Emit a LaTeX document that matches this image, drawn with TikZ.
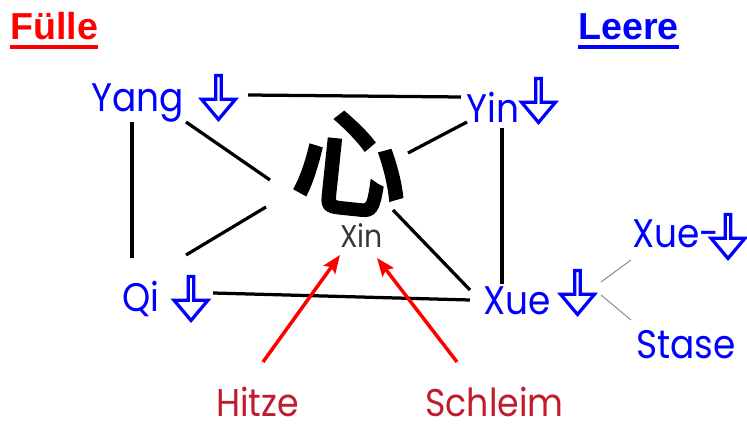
\documentclass[tikz,border=0pt]{standalone}
\usepackage{fontspec}
\setmainfont{Liberation Sans}
\newfontfamily\geofont[FakeStretch=0.9]{Poppins}
\newfontfamily\cjk[FakeBold=5]{Noto Sans CJK SC}
\usetikzlibrary{shapes.arrows,arrows.meta}
\definecolor{heatred}{RGB}{192,28,46}
\definecolor{xingray}{RGB}{55,55,55}
\definecolor{twiggray}{RGB}{140,140,140}
\begin{document}
\begin{tikzpicture}[
    x=0.02cm, y=-0.02cm,
    head/.style={font=\bfseries\fontsize{21.4}{24}\selectfont, inner sep=0, anchor=base west},
    lbl/.style={font=\geofont\fontsize{22.7}{26}\selectfont, text=blue, inner sep=0, anchor=base west},
    cause/.style={font=\geofont\fontsize{22}{26}\selectfont, text=heatred, inner sep=0, anchor=base west},
    downarr/.style={single arrow, draw=blue, line width=0.065cm, inner sep=0,
                    shape border rotate=270, single arrow head extend=0.17cm,
                    single arrow tip angle=80,
                    minimum width=0.68cm, minimum height=0.88cm, anchor=tip},
    conn/.style={line width=0.065cm},
    twig/.style={twiggray, line width=0.02cm},
    heat/.style={-{Stealth[length=0.36cm, width=0.28cm, inset=0.06cm]}, red, line width=0.07cm},
  ]
  \useasboundingbox (0,0) rectangle (747,428);

  % === headings ===
  \node[head, text=red] (fuelle) at (10,40) {Fülle};
  \node[head, text=blue] (leere) at (578,40) {Leere};
  \draw[red, line width=0.065cm] ([shift={(0,7)}]fuelle.base west) -- ([shift={(0,7)}]fuelle.base east);
  \draw[blue, line width=0.065cm] ([shift={(0,7)}]leere.base west) -- ([shift={(0,7)}]leere.base east);

  % === organ labels ===
  \node[lbl] (yang) at (91,112) {Yang};
  \node[downarr] (yangarr) at (218.5,122) {};
  \node[lbl] (yin) at (466,123) {Yin};
  \node[downarr] (yinarr) at (538.5,125) {};
  \node[lbl] (qi) at (122,312) {Qi};
  \node[downarr] (qiarr) at (191,323) {};
  \node[lbl] (xue) at (483,315) {Xue};
  \node[downarr] (xuearr) at (577.5,317) {};
  \node[lbl] (xuem) at (632,248) {Xue-};
  \node[downarr] (xuemarr) at (728,261) {};
  \node[lbl] (stase) at (636,359) {Stase};

  % === centre ===
  \node[font=\cjk\fontsize{64}{66}\selectfont, inner sep=0, rotate=-6] (heart) at (351,164) {心};
  \node[font=\geofont\fontsize{17.9}{20}\selectfont, text=xingray, inner sep=0, anchor=base west] (xin) at (340,248) {Xin};

  \node[cause] (hitze) at (216,417) {Hitze};
  \node[cause] (schleim) at (425,417) {Schleim};

  % connectors
  \draw[conn] ([shift={(29.5,-27)}]yangarr.tip) -- ([shift={(-5,-26)}]yin.base west);
  \draw[conn] ([shift={(41,10)}]yang.base west) -- ([shift={(10,-54)}]qi.base west);
  \draw[conn] ([shift={(95,10)}]yang.base west) -- ([shift={(-81,16)}]heart.center);
  \draw[conn] ([shift={(64,-57)}]qi.base west) -- ([shift={(-85,43)}]heart.center);
  \draw[conn] ([shift={(1,-1)}]yin.base west) -- ([shift={(57,-11)}]heart.center);
  \draw[conn] ([shift={(36,5)}]yin.base west) -- ([shift={(19,-31)}]xue.base west);
  \draw[conn] ([shift={(42,46)}]heart.center) -- ([shift={(-13,-25)}]xue.base west);
  \draw[conn] ([shift={(22,-30)}]qiarr.tip) -- ([shift={(-13,-15)}]xue.base west);

  \draw[twig] ([shift={(23.5,-35)}]xuearr.tip) -- ([shift={(-1,12)}]xuem.base west);
  \draw[twig] ([shift={(23.5,-22)}]xuearr.tip) -- ([shift={(-5,-39)}]stase.base west);

  \draw[heat] ([shift={(47,-55)}]hitze.base west) -- ([shift={(0,7)}]xin.base west);
  \draw[heat] ([shift={(32,-55)}]schleim.base west) -- ([shift={(37,10)}]xin.base west);

  \end{tikzpicture}
\end{document}
